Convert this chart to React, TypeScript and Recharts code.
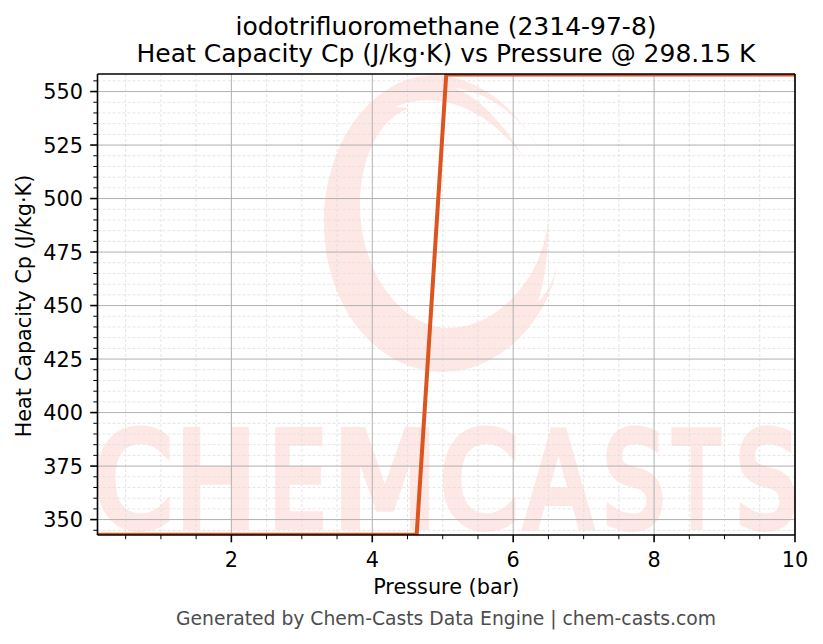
import React from "react";
import {
  LineChart,
  Line,
  XAxis,
  YAxis,
  CartesianGrid,
  ReferenceLine,
} from "recharts";

const pressure = [0.1, 4.63, 5.05, 10];
const heatCapacity = [342.9, 342.9, 558.0, 558.0];

const xDomain = [0.1, 10];
const yDomain = [342.8, 558.2];
const xMajor = [2, 4, 6, 8, 10];
const xMinor = [0.5, 1, 1.5, 2.5, 3, 3.5, 4.5, 5, 5.5, 6.5, 7, 7.5, 8.5, 9, 9.5];
const yMajor = [350, 375, 400, 425, 450, 475, 500, 525, 550];
const yMinor = [
  345, 355, 360, 365, 370, 380, 385, 390, 395, 405, 410, 415, 420, 430, 435, 440, 445,
  455, 460, 465, 470, 480, 485, 490, 495, 505, 510, 515, 520, 530, 535, 540, 545, 555,
];
const watermarkLetters = [
  { ch: "C", x: 94, w: 78 },
  { ch: "H", x: 176, w: 80 },
  { ch: "E", x: 269, w: 57 },
  { ch: "M", x: 333, w: 104 },
  { ch: "C", x: 440, w: 78 },
  { ch: "A", x: 525, w: 67 },
  { ch: "S", x: 603, w: 62 },
  { ch: "T", x: 674, w: 45 },
  { ch: "S", x: 736, w: 62 },
];

const data = pressure.map((p, i) => ({ p, cp: heatCapacity[i] }));

const FONT = "'DejaVu Sans', sans-serif";
const PINK = "#fee8e5";

const swoosh =
  "M540 152 C520 115 490 82 440 75 C375 72 324 140 324 222 C324 310 380 372 443 372 " +
  "C500 372 548 320 557 267 C552 285 545 295 538 302 C545 280 549 250 548 220 " +
  "C543 280 495 328 450 328 C400 328 360 270 360 205 C360 150 385 115 410 108 L395 107 " +
  "C420 95 475 92 523 157 C505 125 480 98 455 88 C490 92 525 120 540 152 Z";

function XTick({ x, y, payload }: any) {
  const major = xMajor.includes(payload.value);
  return (
    <g>
      <line x1={x} x2={x} y1={y} y2={y + (major ? 7.3 : 4.2)} stroke="#000" strokeWidth={major ? 1.6 : 1} />
      {major && (
        <text x={x} y={y + 32} textAnchor="middle" fontSize={20.8} fontFamily={FONT} fill="#000">
          {payload.value}
        </text>
      )}
    </g>
  );
}

function YTick({ x, y, payload }: any) {
  const major = yMajor.includes(payload.value);
  return (
    <g>
      <line x1={x} x2={x - (major ? 7.3 : 4.2)} y1={y} y2={y} stroke="#000" strokeWidth={major ? 1.6 : 1} />
      {major && (
        <text x={x - 14.6} y={y + 7.6} textAnchor="end" fontSize={20.8} fontFamily={FONT} fill="#000">
          {payload.value}
        </text>
      )}
    </g>
  );
}

function YLabel() {
  return (
    <text
      transform="translate(31 306) rotate(-90)"
      textAnchor="middle"
      fontSize={20.8}
      fontFamily={FONT}
      fill="#000"
    >
      Heat Capacity Cp (J/kg·K)
    </text>
  );
}

export default function App() {
  return (
    <div style={{ position: "absolute", left: 0, top: 0, width: 823, height: 644, background: "#fff" }}>
      <svg width={823} height={644} style={{ position: "absolute", left: 0, top: 0 }}>
        <path d={swoosh} fill={PINK} />
        {watermarkLetters.map((l, i) => (
          <text
            key={i}
            x={l.x}
            y={526}
            fontSize={130}
            fontFamily={FONT}
            fill={PINK}
            stroke={PINK}
            strokeWidth={8}
            textLength={l.w}
            lengthAdjust="spacingAndGlyphs"
          >
            {l.ch}
          </text>
        ))}
        <text x={446} y={35} textAnchor="middle" fontSize={25} fontFamily={FONT} fill="#000">
          iodotrifluoromethane (2314-97-8)
        </text>
        <text x={446} y={62} textAnchor="middle" fontSize={25} fontFamily={FONT} fill="#000">
          Heat Capacity Cp (J/kg·K) vs Pressure @ 298.15 K
        </text>
        <text x={446} y={625} textAnchor="middle" fontSize={18.75} fontFamily={FONT} fill="#4d4d4d">
          Generated by Chem-Casts Data Engine | chem-casts.com
        </text>
      </svg>
      <div style={{ position: "absolute", left: 0, top: 0 }}>
        <LineChart
          width={823}
          height={644}
          data={data}
          margin={{ left: 0, right: 28, top: 74, bottom: 0 }}
        >
          <CartesianGrid
            stroke="#dedede"
            strokeWidth={0.8}
            strokeDasharray="3 2"
            horizontalValues={yMinor}
            verticalValues={xMinor}
          />
          <CartesianGrid
            stroke="#b0b0b0"
            strokeWidth={1}
            horizontalValues={yMajor}
            verticalValues={xMajor}
          />
          <XAxis
            type="number"
            dataKey="p"
            domain={xDomain}
            ticks={[...xMajor, ...xMinor].sort((a, b) => a - b)}
            interval={0}
            allowDataOverflow
            height={109}
            tickSize={0}
            tickMargin={0}
            tick={<XTick />}
            axisLine={{ stroke: "#000", strokeWidth: 1.6 }}
            label={{
              value: "Pressure (bar)",
              position: "insideTop",
              offset: 44,
              fontSize: 20.8,
              fontFamily: FONT,
              fill: "#000",
            }}
          />
          <YAxis
            type="number"
            dataKey="cp"
            domain={yDomain}
            ticks={[...yMajor, ...yMinor].sort((a, b) => a - b)}
            interval={0}
            allowDataOverflow
            width={97.5}
            tickSize={0}
            tickMargin={0}
            tick={<YTick />}
            axisLine={{ stroke: "#000", strokeWidth: 1.6 }}
            label={{ content: <YLabel /> }}
          />
          <Line
            type="linear"
            dataKey="cp"
            stroke="#dc541e"
            strokeWidth={4}
            dot={false}
            activeDot={false}
            isAnimationActive={false}
          />
          <ReferenceLine y={yDomain[1]} stroke="#000" strokeWidth={1.6} />
          <ReferenceLine x={xDomain[1]} stroke="#000" strokeWidth={1.6} />
        </LineChart>
      </div>
    </div>
  );
}
